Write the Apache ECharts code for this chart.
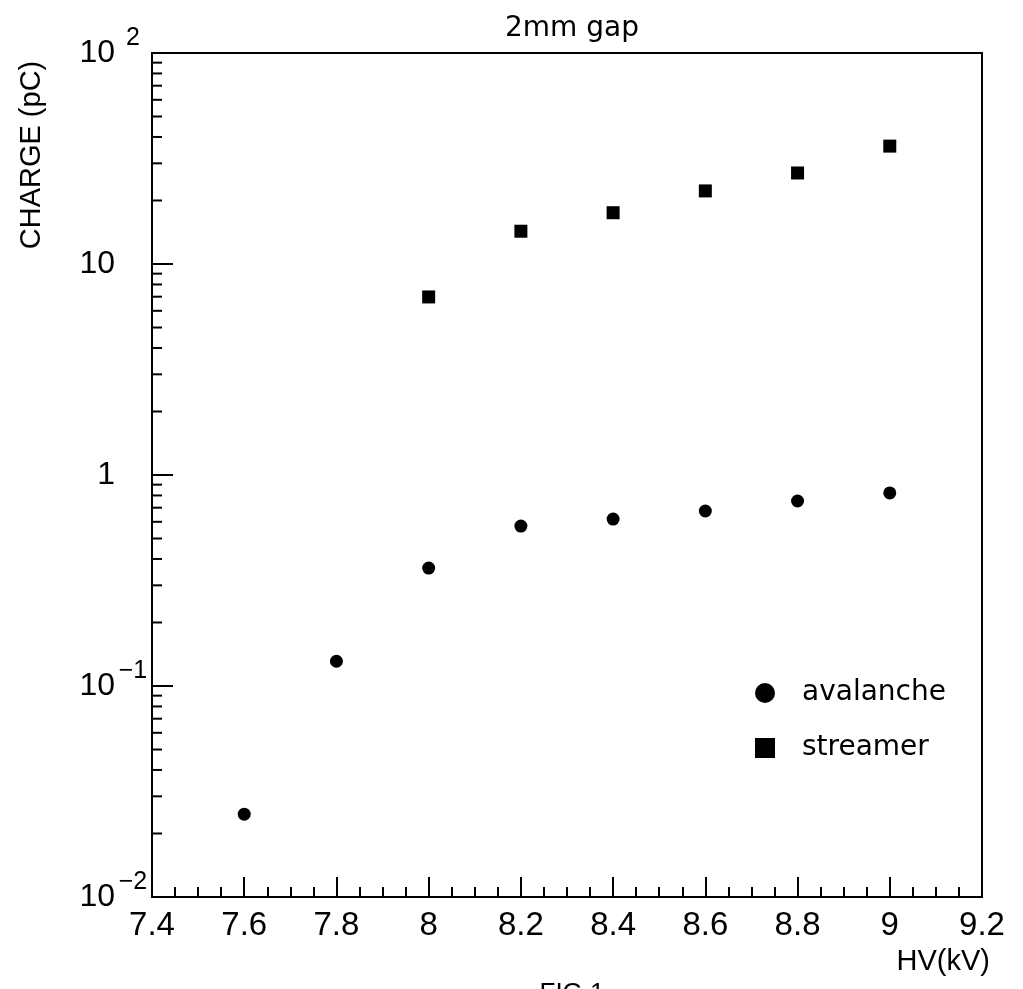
<!DOCTYPE html>
<html>
<head>
<meta charset="utf-8">
<script src="https://cdn.jsdelivr.net/npm/echarts@6/dist/echarts.min.js"></script>
<style>
  html, body { margin: 0; padding: 0; background: #fff; }
  #chart { width: 1023px; height: 989px; }
</style>
</head>
<body>
<div id="chart"></div>
<script>
// data
const hv = [7.6, 7.8, 8.0, 8.2, 8.4, 8.6, 8.8, 9.0];
const avalanche = [0.0247, 0.131, 0.362, 0.573, 0.618, 0.675, 0.753, 0.822];
const hvStreamer = [8.0, 8.2, 8.4, 8.6, 8.8, 9.0];
const streamer = [6.98, 14.3, 17.5, 22.2, 27.0, 36.2];

const xMin = 7.4, xMax = 9.2, xStep = 0.2;
const yMin = 0.01, yMax = 100;
// log minor tick positions (2..9 in each decade)
const decades = [0.01, 0.1, 1, 10];
const minorMults = [2, 3, 4, 5, 6, 7, 8, 9];

const font = '"Liberation Sans", Arial, sans-serif';
const roundFont = '"DejaVu Sans", sans-serif';

const minorY = [];
decades.forEach(d => minorMults.forEach(m => minorY.push([xMin, +(d * m).toPrecision(3)])));

const chart = echarts.init(document.getElementById('chart'));

chart.setOption({
  animation: false,
  backgroundColor: '#fff',
  title: {
    text: '2mm gap',
    left: 567,
    top: 10,
    textAlign: 'center',
    textStyle: { fontFamily: roundFont, fontSize: 28, fontWeight: 'normal', color: '#000' }
  },
  legend: {
    orient: 'vertical',
    left: 750,
    top: 674,
    itemWidth: 20,
    itemHeight: 20,
    itemGap: 27,
    textStyle: { fontFamily: roundFont, fontSize: 28, color: '#000', padding: [0, 0, 0, 22] },
    data: [
      { name: 'avalanche', icon: 'circle', itemStyle: { color: '#000', opacity: 1 } },
      { name: 'streamer', icon: 'rect', itemStyle: { color: '#000', opacity: 1 } }
    ]
  },
  grid: {
    left: 152, right: 41, top: 53, bottom: 92,
    show: true, borderColor: '#000', borderWidth: 2
  },
  xAxis: {
    type: 'value',
    min: xMin, max: xMax, interval: xStep,
    splitLine: { show: false },
    axisLine: { lineStyle: { color: '#000', width: 2 } },
    axisTick: { inside: true, length: 20, lineStyle: { color: '#000', width: 2 } },
    minorTick: { show: true, splitNumber: 4, length: 10, lineStyle: { color: '#000', width: 2 } },
    axisLabel: {
      margin: 12,
      color: '#000',
      fontFamily: font,
      fontSize: 33,
      formatter: v => String(Math.round(v * 10) / 10)
    }
  },
  yAxis: {
    type: 'log',
    logBase: 10,
    min: yMin, max: yMax,
    splitLine: { show: false },
    axisLine: { lineStyle: { color: '#000', width: 2 } },
    axisTick: { inside: true, length: 21, lineStyle: { color: '#000', width: 2 } },
    axisLabel: {
      margin: 4,
      color: '#000',
      formatter: function (v) {
        const e = Math.round(Math.log10(v));
        if (e === 0) return '{b|1}{s| }';
        if (e === 1) return '{b|10}{s| }';
        return '{b|10}{s|' + String(e).replace('-', '\u2212') + '}';
      },
      rich: {
        b: { fontFamily: font, fontSize: 32, color: '#000' },
        s: { fontFamily: font, fontSize: 25, color: '#000', width: 30, align: 'left', padding: [0, 0, 30, 3] }
      }
    }
  },
  graphic: [
    {
      type: 'text',
      x: 32, y: 155,
      rotation: Math.PI / 2,
      style: { text: 'CHARGE (pC)', fontSize: 29, fontFamily: font, fill: '#000', align: 'center', verticalAlign: 'middle' }
    },
    {
      type: 'text',
      x: 990, y: 962,
      style: { text: 'HV(kV)', fontSize: 29, fontFamily: font, fill: '#000', align: 'right', verticalAlign: 'middle' }
    },
    {
      type: 'text',
      x: 572, y: 981,
      style: { text: 'FIG.1', fontSize: 26, fontFamily: font, fill: '#000', align: 'center', verticalAlign: 'top' }
    }
  ],
  series: [
    {
      name: 'avalanche',
      type: 'scatter',
      symbol: 'circle',
      symbolSize: 13,
      itemStyle: { color: '#000', opacity: 1 },
      data: hv.map((x, i) => [x, avalanche[i]])
    },
    {
      name: 'streamer',
      type: 'scatter',
      symbol: 'rect',
      symbolSize: 13,
      itemStyle: { color: '#000', opacity: 1 },
      data: hvStreamer.map((x, i) => [x, streamer[i]])
    },
    {
      name: 'yMinorTicks',
      type: 'custom',
      silent: true,
      clip: false,
      data: minorY,
      renderItem: function (params, api) {
        const p = api.coord([api.value(0), api.value(1)]);
        return {
          type: 'line',
          shape: { x1: p[0], y1: p[1], x2: p[0] + 10, y2: p[1] },
          style: { stroke: '#000', lineWidth: 2 }
        };
      }
    }
  ]
});
</script>
</body>
</html>
